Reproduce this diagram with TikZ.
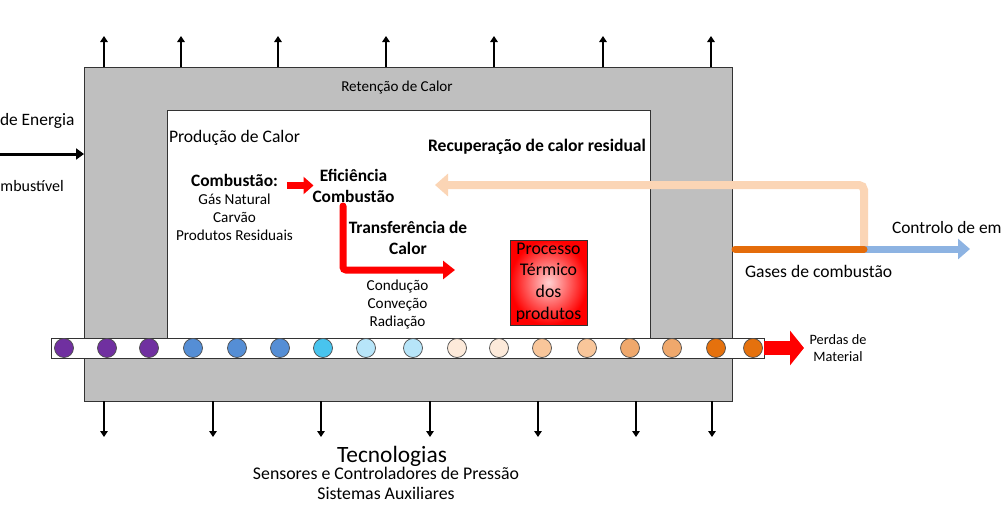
\documentclass[tikz,border=0pt]{standalone}
\usepackage{fontspec}
\setmainfont{Carlito}
\usetikzlibrary{arrows.meta}
\definecolor{wallgray}{HTML}{BFBFBF}
\definecolor{cpurp}{HTML}{7030A0}
\definecolor{cblue}{HTML}{558ED5}
\definecolor{ccyan}{HTML}{48C4EE}
\definecolor{clblue}{HTML}{B7E5F9}
\definecolor{cvlpeach}{HTML}{FDEADA}
\definecolor{cpeach}{HTML}{F9C69A}
\definecolor{ctan}{HTML}{EFA86C}
\definecolor{corange}{HTML}{E5710D}
\definecolor{peachline}{HTML}{FBD5B5}
\definecolor{blueline}{HTML}{8DB3E2}
\definecolor{orline}{HTML}{E46C0A}
\begin{document}
\begin{tikzpicture}[x=1pt,y=-1pt,
  every node/.style={inner sep=0pt, outer sep=0pt},
  box/.style={draw=black!80, line width=0.8pt, anchor=north west},
  ball/.style={circle, draw=black!70, line width=0.7pt, minimum size=19pt},
  thinarrow/.style={line width=1.6pt, -{Triangle[length=6pt,width=7.5pt]}},
  inarrow/.style={line width=3pt, -{Triangle[length=8pt,width=11pt]}},
  redarrow/.style={red, line width=7pt, -{Triangle[length=12pt,width=18pt]}},
  perdas/.style={red, line width=14pt, -{Triangle[length=14pt,width=34pt]}},
  fs/.style={font=\fontsize{#1}{#1}\selectfont},
  txt/.style={align=center, font=\fontsize{15.2}{18}\selectfont},
  btxt/.style={align=center, font=\bfseries\fontsize{17.4}{21}\selectfont}]
\clip (0,0) rectangle (1001,506);
\fill[white] (0,0) rectangle (1001,506);
% walls
\node[box, fill=wallgray, minimum width=648pt, minimum height=334pt] (wall) at (84,67) {};
\node[box, fill=white, minimum width=483pt, minimum height=232pt] (inner) at (167,110) {};
% top and bottom arrows
\foreach \x [count=\i] in {104,181,278,386,494,603,711}
  \draw[thinarrow] (\x,67) coordinate (tb\i) -- (\x,36) coordinate (tt\i);
\foreach \x [count=\i] in {104,213,321,430,538,636,712}
  \draw[thinarrow] (\x,401) coordinate (bb\i) -- (\x,437) coordinate (bt\i);
% conveyor belt
\node[box, fill=white, minimum width=713pt, minimum height=20pt] (belt) at (51,338) {};
\foreach \x/\c [count=\i] in {64/cpurp,107/cpurp,149/cpurp,193/cblue,237/cblue,280/cblue,323/ccyan,366/clblue,413/clblue,457/cvlpeach,499/cvlpeach,542/cpeach,587/cpeach,630/ctan,672/ctan,716/corange,753/corange}
  \node[ball, fill=\c] (b\i) at (\x,348) {};
\draw[perdas] (belt.east) -- ++(40,0) coordinate (perdtip);
\node[align=center, font=\fontsize{14.3}{17}\selectfont] (perdas) at (838,348) {Perdas de\\Material};
% left input
\node[anchor=west, fs=17.4] (energia) at (0,121) {de Energia};
\node[anchor=west, fs=16] (combustivel) at (0.5,186) {mbustível};
\coordinate (ein) at (-2,154);
\draw[inarrow] (ein) -- (wall.west |- ein);
% texts
\node[fs=15.1] (retencao) at (397,88) {Retenção de Calor};
\node[anchor=west, fs=17.6] (producao) at (169,138) {Produção de Calor};
\node[btxt] (combt) at (234.5,180) {Combustão:};
\node[txt] (fuels) at (234.5,217) {Gás Natural\\Carvão\\Produtos Residuais};
\node[btxt] (efic) at (353.5,185.5) {Eficiência\\Combustão};
\node[btxt] (transf) at (408,237.5) {Transferência de\\Calor};
\node[txt] (modes) at (397.5,304) {Condução\\Conveção\\Radiação};
\node[anchor=west, font=\bfseries\fontsize{17.6}{18}\selectfont] (recup) at (428,147) {Recuperação de calor residual};
% process box
\node[box, shading=radial, inner color=red!18!white, outer color=red, minimum width=77pt, minimum height=85pt] (proc) at (510,240) {};
\node[align=center, font=\fontsize{17.8}{21.6}\selectfont] (proctxt) at (proc.center) {Processo\\Térmico\\dos\\produtos};
% red arrows
\draw[red, line width=7pt, -{Triangle[length=10pt,width=17pt]}] ([xshift=9pt]combt.east |- efic.west) -- ([xshift=1pt]efic.west);
\draw[redarrow, rounded corners=3pt, line cap=round] (343,206) coordinate (ls) -- (343,270) -- (455,270) coordinate (le);
% gas lines
\coordinate (gj) at (864,249);
\coordinate (rec) at (435,185);
\coordinate (emis) at (970,249);
\draw[peachline, line width=8pt, rounded corners=5pt, -{Triangle[length=13pt,width=22pt]}] (gj) |- (rec);
\draw[blueline, line width=7pt, -{Triangle[length=12pt,width=20pt]}] (gj) -- (emis);
\draw[orline, line width=7pt, line cap=round] ([xshift=3pt]wall.east |- gj) -- (gj);
\node[anchor=west, fs=17.4] (controlo) at (892,228) {Controlo de em};
\node[anchor=west, fs=17.6] (gases) at (745,271) {Gases de combustão};
% bottom texts
\node[fs=23.4] (tecn) at (392,456) {Tecnologias};
\node[fs=17.8] (sens) at (386,473) {Sensores e Controladores de Pressão};
\node[fs=17.8] (sist) at (386,493) {Sistemas Auxiliares};
\end{tikzpicture}
\end{document}
